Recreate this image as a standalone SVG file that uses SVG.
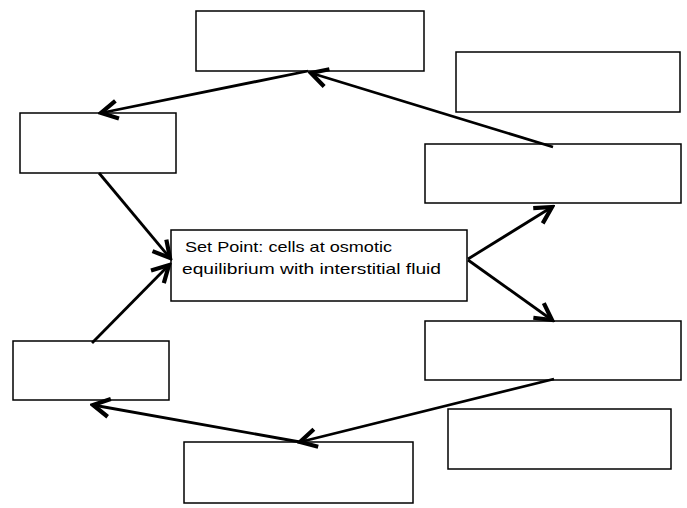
<svg xmlns="http://www.w3.org/2000/svg" width="687" height="508" viewBox="0 0 687 508">
<style>
.box{fill:#fff;stroke:#000;stroke-width:1.5}
.arr{fill:none;stroke:#000;stroke-width:2.8;marker-end:url(#ah)}
.t{font-family:"Liberation Sans","DejaVu Sans",sans-serif;font-size:15px;fill:#000}
</style>
<defs>
<marker id="ah" markerUnits="userSpaceOnUse" markerWidth="24" markerHeight="24" viewBox="-14 -8 16 16" refX="0" refY="0" orient="auto">
<path d="M-11,-6 L0,0 L-11,6" fill="none" stroke="#000" stroke-width="2.8"/>
</marker>
</defs>
<rect width="687" height="508" fill="#fff"/>
<g id="n-top"><rect class="box" x="196" y="11" width="228" height="60"/></g>
<g id="n-topright"><rect class="box" x="456" y="52" width="224" height="60"/></g>
<g id="n-leftupper"><rect class="box" x="20" y="113" width="156" height="60"/></g>
<g id="n-rightupper"><rect class="box" x="425" y="144" width="256" height="59"/></g>
<g id="n-center"><rect class="box" x="171" y="230" width="296" height="71"/>
<text class="t" x="185" y="252" textLength="207" lengthAdjust="spacingAndGlyphs">Set Point: cells at osmotic</text>
<text class="t" x="182" y="274" textLength="259" lengthAdjust="spacingAndGlyphs">equilibrium with interstitial fluid</text></g>
<g id="n-rightlower"><rect class="box" x="425" y="321" width="256" height="59"/></g>
<g id="n-leftlower"><rect class="box" x="13" y="341" width="156" height="59"/></g>
<g id="n-bottomright"><rect class="box" x="448" y="409" width="223" height="60"/></g>
<g id="n-bottom"><rect class="box" x="184" y="442" width="229" height="61"/></g>
<g id="connectors">
<line class="arr" x1="308" y1="71" x2="101" y2="113"/>
<line class="arr" x1="553" y1="147" x2="311" y2="73"/>
<line class="arr" x1="99" y1="173" x2="170" y2="258"/>
<line class="arr" x1="468" y1="259" x2="552" y2="207"/>
<line class="arr" x1="468" y1="260" x2="552" y2="320"/>
<line class="arr" x1="92" y1="343" x2="169" y2="265"/>
<line class="arr" x1="554" y1="379" x2="300" y2="442"/>
<line class="arr" x1="300" y1="442" x2="93" y2="405"/>
</g>
</svg>
